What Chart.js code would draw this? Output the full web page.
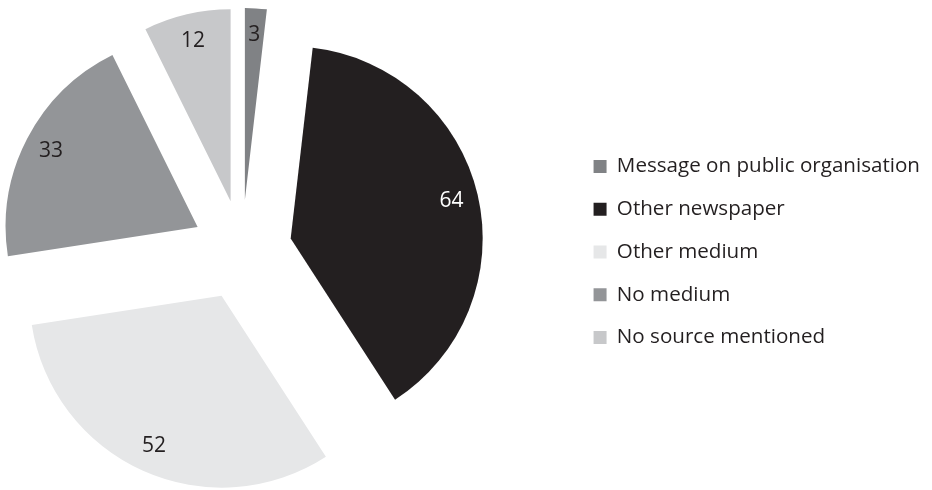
<!DOCTYPE html>
<html>
<head>
<meta charset="utf-8">
<script src="https://cdn.jsdelivr.net/npm/chart.js@4"></script>
<style>
  html, body { margin: 0; padding: 0; background: #ffffff; }
  #wrap { width: 932px; height: 490px; }
</style>
</head>
<body>
<div id="wrap"><canvas id="piechart" width="932" height="490"></canvas></div>
<script>
var categories = ['Message on public organisation', 'Other newspaper', 'Other medium', 'No medium', 'No source mentioned'];
var counts = [3, 64, 52, 33, 12];
var sliceColours = ['#808285', '#231f20', '#e6e7e8', '#939598', '#c7c8ca'];
var labelColours = ['#231f20', '#ffffff', '#231f20', '#231f20', '#231f20'];

var EXPLODE = 50; // how far each slice is pulled out, px
var RADIUS = 192;
var PIE_CX = 242, PIE_CY = 250;
var FONT = '"Open Sans", sans-serif';

// pie sits left of centre of the free area, so move the area before the arcs are laid out
var pieCentre = {
  id: 'pieCentre',
  afterLayout: function (chart) {
    var area = chart.chartArea;
    var w = area.right - area.left, h = area.bottom - area.top;
    area.left = PIE_CX - w / 2; area.right = PIE_CX + w / 2;
    area.top = PIE_CY - h / 2; area.bottom = PIE_CY + h / 2;
  }
};

// the built-in offset also widens and narrows arcs, so push each arc out by hand instead
var explode = {
  id: 'explode',
  beforeDatasetDraw: function (chart, args) {
    var ctx = chart.ctx;
    args.meta.data.forEach(function (arc) {
      var mid = (arc.startAngle + arc.endAngle) / 2;
      ctx.save();
      ctx.translate(Math.cos(mid) * EXPLODE, Math.sin(mid) * EXPLODE);
      arc.draw(ctx);
      ctx.restore();
    });
    return false;
  }
};

var sliceLabels = {
  id: 'sliceLabels',
  afterDatasetsDraw: function (chart) {
    var ctx = chart.ctx;
    var meta = chart.getDatasetMeta(0);
    ctx.save();
    ctx.font = '21px ' + FONT;
    ctx.textAlign = 'center';
    ctx.textBaseline = 'middle';
    meta.data.forEach(function (arc, i) {
      var p = arc.getProps(['x', 'y', 'startAngle', 'endAngle', 'outerRadius']);
      var mid = (p.startAngle + p.endAngle) / 2;
      var dist = EXPLODE + p.outerRadius * 0.86;
      ctx.fillStyle = labelColours[i];
      ctx.fillText(String(counts[i]), p.x + Math.cos(mid) * dist, p.y + Math.sin(mid) * dist);
    });
    ctx.restore();
  }
};

var chart = new Chart(document.getElementById('piechart'), {
  type: 'pie',
  data: {
    labels: categories,
    datasets: [{
      data: counts,
      backgroundColor: sliceColours,
      borderWidth: 0,
      hoverOffset: 0
    }]
  },
  options: {
    responsive: false,
    animation: false,
    radius: RADIUS,
    layout: {
      padding: { left: 0, right: 2, top: 16, bottom: 2 }
    },
    plugins: {
      legend: {
        position: 'right',
        align: 'center',
        labels: {
          boxWidth: 13,
          boxHeight: 13,
          padding: 22.2,
          color: '#231f20',
          font: { family: FONT, size: 20.6 }
        }
      },
      tooltip: { enabled: false }
    }
  },
  plugins: [pieCentre, explode, sliceLabels]
});
</script>
</body>
</html>
